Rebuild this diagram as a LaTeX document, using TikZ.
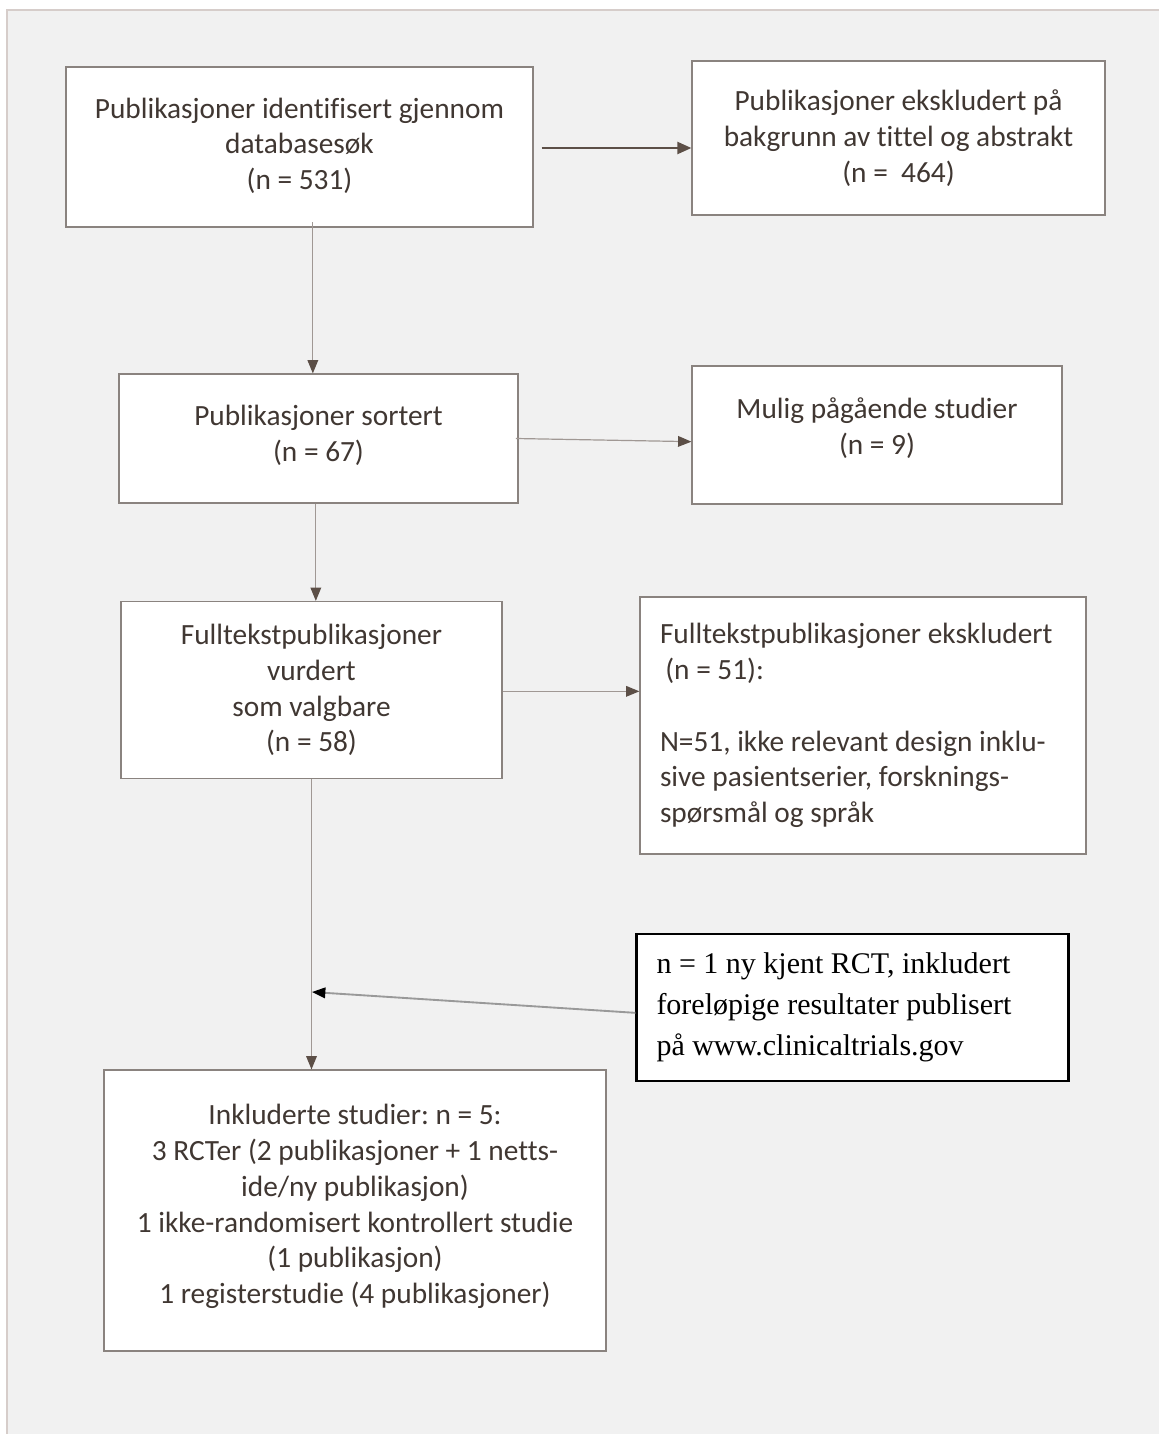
\documentclass[tikz,border=0pt]{standalone}
\usepackage{fontspec}
\setmainfont{Carlito}[Ligatures=NoCommon]
\newfontfamily\notefont{Liberation Serif}
\usetikzlibrary{arrows.meta}
\frenchspacing

\definecolor{txtbrown}{RGB}{64,55,50}
\definecolor{boxgray}{RGB}{138,131,127}
\definecolor{linegray}{RGB}{160,152,148}
\definecolor{tipbrown}{RGB}{92,79,71}
\definecolor{panelgray}{RGB}{241,241,241}
\definecolor{framegray}{RGB}{214,205,202}

\tikzset{every picture/.style={line width=0.75pt}}
\tikzset{
	flowbox/.style={draw=boxgray, fill=white, line width=0.9pt, inner sep=0pt,
		align=center, text=txtbrown, font=\fontsize{22}{26.8}\selectfont},
	notebox/.style={draw=black, fill=white, line width=1.6pt, inner xsep=15pt,
		align=flush left, text=black, font=\notefont\fontsize{22.5}{30.75}\selectfont},
	thinarrow/.style={draw=linegray, line width=0.9pt,
		-{Triangle[color=tipbrown, length=10pt, width=8pt]}},
	thickarrow/.style={draw=tipbrown, line width=1.6pt,
		-{Triangle[length=10.5pt, width=9pt]}},
	notearrow/.style={draw=gray!80, line width=1.4pt,
		-{Triangle[color=black, length=10pt, width=8pt]}}
}

\begin{document}
\begin{tikzpicture}[x=0.75pt,y=0.75pt,yscale=-1,xscale=1]
	\useasboundingbox (0,0) rectangle (1158,1434);

	% panel behind the chart
	\fill[panelgray] (7,10) rectangle (1165,1440);
	\draw[framegray, line width=1.2pt] (7,1440) -- (7,10) -- (1165,10);

	% boxes
	\node[flowbox, minimum width=350.25pt, minimum height=120pt] (ident) at (299.5,147)
		{Publikasjoner identifisert gjennom\\databasesøk\\(n = 531)\\[-22pt]};
	\node[flowbox, minimum width=309.75pt, minimum height=115.5pt] (excl) at (898.5,138)
		{Publikasjoner ekskludert på\\bakgrunn av tittel og abstrakt\\(n = \ 464)};
	\node[flowbox, minimum width=299.25pt, minimum height=96.75pt] (sorted) at (318.5,438.5)
		{Publikasjoner sortert\\(n = 67)\\[-19pt]};
	\node[flowbox, minimum width=277.5pt, minimum height=103.5pt] (ongoing) at (877,435)
		{Mulig pågående studier\\(n = 9)\\[-13pt]};
	\node[flowbox, minimum width=285.75pt, minimum height=132.75pt] (fulltext) at (311.5,690)
		{Fulltekstpublikasjoner\\vurdert\\som valgbare\\(n = 58)};
	\node[flowbox, align=flush left, inner xsep=15pt, text width=304.5pt, minimum height=192.75pt] (ftexcl) at (863,725.5)
		{Fulltekstpublikasjoner ekskludert\\\hspace*{4pt}(n = 51):\\[26.8pt]N=51, ikke relevant design inklu-\\sive pasientserier, forsknings-\\spørsmål og språk};
	\node[notebox, text width=294pt, minimum height=110.25pt] (newrct) at (852.5,1007.5)
		{n = 1 ny kjent RCT, inkludert\\foreløpige resultater publisert\\på www.clinicaltrials.gov};
	\node[flowbox, minimum width=376.5pt, minimum height=210.75pt] (incl) at (355,1210.5)
		{Inkluderte studier: n = 5:\\3 RCTer (2 publikasjoner + 1 netts-\\ide/ny publikasjon)\\1 ikke-randomisert kontrollert studie\\(1 publikasjon)\\1 registerstudie (4 publikasjoner)\\[-17pt]};

	% connectors
	\draw[thickarrow] ([xshift=6pt]ident.east |- 0,148) -- (excl.west |- 0,148);
	\draw[thinarrow] ([xshift=10pt,yshift=-4pt]ident.south) -- ([xshift=10pt]ident.south |- sorted.north);
	\draw[thinarrow] ([xshift=-2pt]sorted.east) -- ([yshift=5pt]ongoing.west);
	\draw[thinarrow] ([xshift=-2pt]sorted.south) -- ([xshift=-2pt]sorted.south |- fulltext.north);
	\draw[thinarrow] ([yshift=1pt]fulltext.east) -- ([yshift=1pt]fulltext.east -| ftexcl.west);
	\draw[thinarrow] (fulltext.south) -- (fulltext.south |- incl.north);
	\coordinate (join) at (312,992);
	\draw[notearrow] ([yshift=4pt]newrct.west) -- (join);

\end{tikzpicture}
\end{document}
